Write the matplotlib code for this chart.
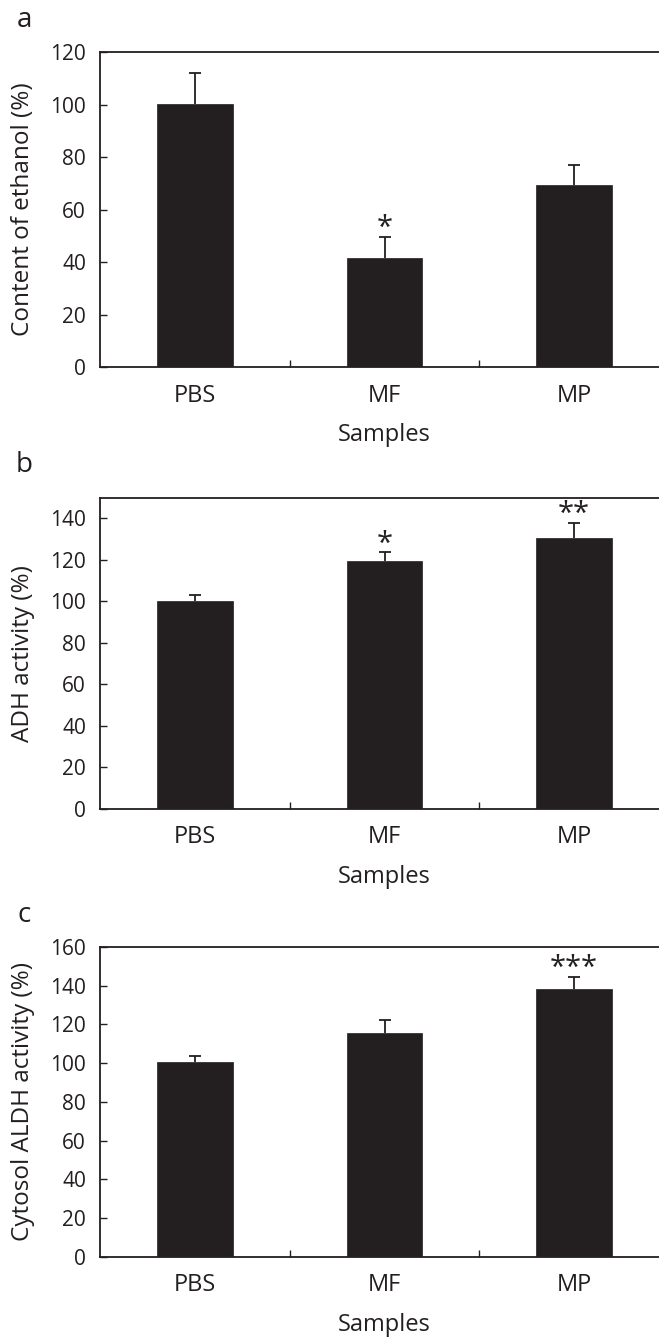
import matplotlib
matplotlib.use("Agg")
import matplotlib.pyplot as plt
from matplotlib.ticker import FixedLocator

plt.rcParams['font.family'] = ['Open Sans', 'DejaVu Sans']

categories = ["PBS", "MF", "MP"]

ethanol_mean = [100.1, 41.4, 69.3]
ethanol_err = [12.1, 8.2, 7.7]
ethanol_sig = ["", "*", ""]

adh_mean = [100.3, 119.7, 130.6]
adh_err = [2.8, 4.0, 7.1]
adh_sig = ["", "*", "**"]

aldh_mean = [100.4, 115.4, 138.1]
aldh_err = [3.3, 6.9, 6.6]
aldh_sig = ["", "", "***"]

panel_letters = ["a", "b", "c"]
ylabels = ["Content of ethanol (%)", "ADH activity (%)", "Cytosol ALDH activity (%)"]
ylims = [120, 150, 160]
yticks = [list(range(0, 121, 20)), list(range(0, 141, 20)), list(range(0, 161, 20))]

means = [ethanol_mean, adh_mean, aldh_mean]
errs = [ethanol_err, adh_err, aldh_err]
sigs = [ethanol_sig, adh_sig, aldh_sig]

W, H = 659, 1337
fig = plt.figure(figsize=(W / 100, H / 100), dpi=100)

boxes = [(52.3, 367.0), (497.7, 808.7), (947.0, 1256.7)]
left_px, right_px = 100.0, 669.0
letter_y = [20, 465, 915]

ink = "#231f20"
for i in range(3):
    top, bot = boxes[i]
    ax = fig.add_axes([left_px / W, 1 - bot / H, (right_px - left_px) / W, (bot - top) / H])
    x = list(range(len(categories)))
    ax.bar(x, means[i], width=0.4, color=ink, edgecolor=ink, linewidth=0.5, zorder=2)
    eb = ax.errorbar(x, means[i], yerr=[[0] * 3, errs[i]], fmt="none", ecolor=ink,
                     elinewidth=1.3, capsize=4.5, capthick=1.3, zorder=1)
    caps = eb[1]
    if len(caps) == 2:
        caps[0].set_visible(False)
    for xi, m, e, s in zip(x, means[i], errs[i], sigs[i]):
        if s:
            ax.annotate(s, (xi, m + e), xytext=(0, -4.5), textcoords="offset points",
                        ha="center", va="bottom", fontsize=21, color=ink)
    ax.set_xlim(-0.5, 2.5)
    ax.set_ylim(0, ylims[i])
    ax.set_xticks(x)
    ax.set_xticklabels(categories, fontsize=17, color=ink)
    ax.xaxis.set_minor_locator(FixedLocator([0.5, 1.5]))
    ax.tick_params(axis="x", which="major", length=0, pad=12)
    ax.tick_params(axis="x", which="minor", direction="in", length=5, width=1.0, color=ink)
    ax.set_yticks(yticks[i])
    ax.tick_params(axis="y", direction="in", length=5, width=1.0, labelsize=15,
                   pad=10, color=ink, labelcolor=ink)
    for sp in ax.spines.values():
        sp.set_linewidth(1.3)
        sp.set_color(ink)
    ax.set_ylabel(ylabels[i], fontsize=17.5, color=ink, va="center")
    ax.yaxis.set_label_coords(-0.135, 0.5)
    ax.set_xlabel("Samples", fontsize=17, color=ink, va="center")
    ax.xaxis.set_label_coords(0.5, -68 / (bot - top))
    fig.text(24 / W, 1 - letter_y[i] / H, panel_letters[i], fontsize=20, ha="center",
             va="center", color=ink)

fig.savefig("out.png", dpi=100)
